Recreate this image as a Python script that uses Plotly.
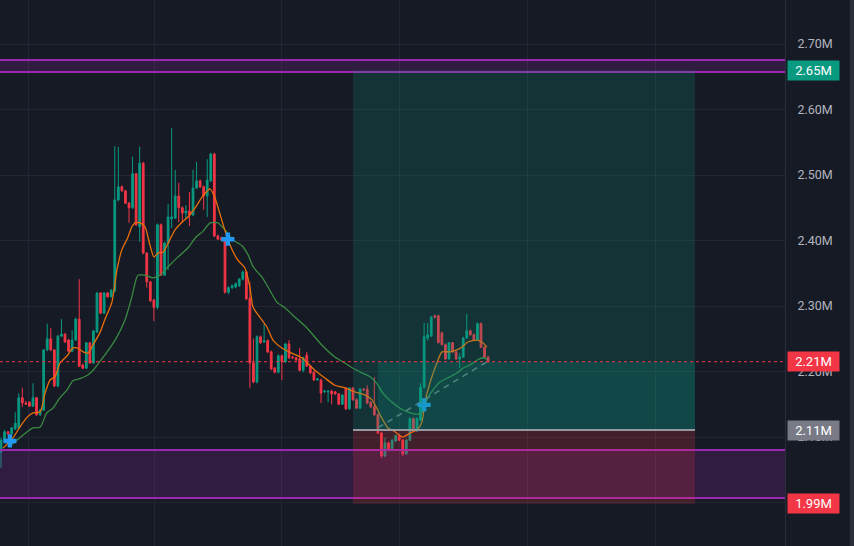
import plotly.graph_objects as go

# ---------------- data (prices in millions) ----------------
candle_idx = list(range(138))

opens = [2.077,2.095,2.108,2.105,2.112,2.114,2.160,2.152,2.153,2.147,
 2.160,2.134,2.141,2.233,2.250,2.233,2.178,2.254,2.257,2.248,
 2.231,2.248,2.280,2.210,2.205,2.244,2.213,2.260,2.320,2.289,
 2.320,2.314,2.323,2.462,2.482,2.476,2.457,2.450,2.502,2.421,
 2.518,2.381,2.337,2.309,2.298,2.424,2.347,2.396,2.433,2.434,
 2.468,2.450,2.442,2.445,2.439,2.480,2.491,2.482,2.468,2.491,
 2.532,2.407,2.404,2.402,2.321,2.328,2.329,2.331,2.341,2.352,
 2.312,2.213,2.184,2.253,2.245,2.247,2.230,2.205,2.199,2.224,
 2.215,2.242,2.222,2.221,2.219,2.202,2.225,2.208,2.199,2.187,
 2.187,2.169,2.169,2.170,2.169,2.166,2.150,2.175,2.143,2.175,
 2.157,2.144,2.173,2.173,2.153,2.146,2.134,2.106,2.071,2.091,
 2.082,2.094,2.102,2.095,2.074,2.095,2.128,2.109,2.126,2.176,
 2.251,2.254,2.285,2.285,2.259,2.241,2.219,2.244,2.230,2.219,
 2.222,2.251,2.262,2.256,2.248,2.273,2.237,2.222]

highs = [2.099,2.111,2.109,2.115,2.138,2.167,2.175,2.155,2.155,2.182,
 2.161,2.143,2.234,2.273,2.266,2.234,2.256,2.280,2.259,2.250,
 2.263,2.282,2.341,2.212,2.245,2.245,2.263,2.321,2.321,2.321,
 2.321,2.326,2.544,2.543,2.484,2.477,2.459,2.528,2.503,2.543,
 2.520,2.382,2.338,2.311,2.426,2.426,2.398,2.456,2.572,2.508,
 2.488,2.452,2.454,2.474,2.508,2.520,2.493,2.484,2.524,2.534,
 2.534,2.409,2.406,2.404,2.330,2.333,2.336,2.343,2.354,2.354,
 2.337,2.250,2.255,2.255,2.273,2.249,2.232,2.207,2.226,2.226,
 2.244,2.248,2.224,2.222,2.236,2.222,2.230,2.210,2.201,2.190,
 2.189,2.172,2.172,2.172,2.170,2.167,2.166,2.176,2.176,2.176,
 2.159,2.175,2.175,2.179,2.155,2.191,2.136,2.108,2.099,2.093,
 2.097,2.104,2.104,2.097,2.097,2.130,2.130,2.130,2.182,2.274,
 2.274,2.285,2.287,2.287,2.261,2.243,2.245,2.245,2.232,2.228,
 2.253,2.288,2.264,2.258,2.275,2.275,2.239,2.224]

lows = [2.053,2.094,2.103,2.103,2.111,2.112,2.146,2.149,2.146,2.146,
 2.132,2.132,2.140,2.231,2.231,2.176,2.176,2.253,2.244,2.230,
 2.230,2.247,2.207,2.204,2.204,2.212,2.212,2.259,2.288,2.288,
 2.313,2.313,2.321,2.460,2.474,2.456,2.427,2.448,2.422,2.398,
 2.379,2.328,2.306,2.277,2.295,2.346,2.346,2.355,2.419,2.433,
 2.428,2.427,2.434,2.422,2.437,2.479,2.480,2.447,2.436,2.489,
 2.405,2.401,2.399,2.319,2.318,2.326,2.327,2.329,2.339,2.309,
 2.175,2.182,2.182,2.242,2.244,2.228,2.202,2.197,2.197,2.187,
 2.213,2.219,2.219,2.216,2.200,2.199,2.207,2.196,2.186,2.186,
 2.152,2.167,2.153,2.150,2.164,2.149,2.149,2.141,2.141,2.155,
 2.143,2.143,2.170,2.150,2.144,2.132,2.105,2.068,2.069,2.080,
 2.080,2.092,2.094,2.071,2.073,2.094,2.108,2.108,2.124,2.174,
 2.247,2.253,2.281,2.243,2.240,2.218,2.218,2.228,2.218,2.205,
 2.221,2.250,2.255,2.247,2.247,2.236,2.221,2.213]

closes = [2.095,2.108,2.105,2.114,2.121,2.160,2.152,2.150,2.147,2.160,
 2.134,2.141,2.233,2.250,2.233,2.178,2.254,2.257,2.245,2.231,
 2.248,2.280,2.208,2.205,2.244,2.213,2.262,2.320,2.289,2.320,
 2.314,2.324,2.462,2.482,2.476,2.457,2.450,2.502,2.424,2.518,
 2.381,2.337,2.308,2.298,2.424,2.347,2.396,2.436,2.436,2.468,
 2.450,2.442,2.445,2.439,2.480,2.491,2.482,2.468,2.492,2.532,
 2.407,2.402,2.401,2.321,2.328,2.331,2.334,2.341,2.352,2.311,
 2.213,2.184,2.253,2.244,2.247,2.230,2.204,2.199,2.224,2.215,
 2.242,2.221,2.221,2.218,2.202,2.221,2.208,2.198,2.187,2.189,
 2.167,2.170,2.170,2.166,2.166,2.150,2.164,2.143,2.175,2.157,
 2.144,2.173,2.172,2.152,2.146,2.134,2.106,2.071,2.091,2.082,
 2.095,2.102,2.095,2.074,2.095,2.128,2.109,2.128,2.176,2.253,
 2.256,2.283,2.283,2.244,2.241,2.219,2.244,2.230,2.219,2.222,
 2.251,2.262,2.256,2.248,2.273,2.237,2.222,2.215]

# moving averages (candle index, price)
ma_fast_x = [0.6,3.4,5.3,7.3,9,11,12.4,13.8,15.2,16.6,18.6,20.2,21.4,23.1,24.5,25.9,27.8,29.2,31.2,32.6,
             34,35.7,36.8,37.7,39.1,40.5,41.9,43,44.2,45.6,47,48.9,50.9,52.6,54.6,56.5,58.8,60.2,62.1,63.6,
             65,66.6,68.6,70,70.9,72.8,74.8,76.5,79,81.8,84.6,88.3,91.1,93.9,96.7,99.5,102.4,104.3,105.7,107.1,
             108.8,110.8,113,115,117,118.4,119.2,120.6,122.6,124,126.3,128.2,129.6,131.3,133.9,135.5,136.7]
ma_fast_y = [2.083,2.099,2.115,2.130,2.137,2.138,2.167,2.187,2.192,2.213,2.224,2.236,2.236,2.230,2.228,2.241,2.259,2.279,2.306,2.355,
             2.386,2.405,2.421,2.427,2.427,2.421,2.393,2.375,2.381,2.382,2.396,2.416,2.428,2.436,2.450,2.466,2.479,2.465,2.431,2.405,
             2.386,2.370,2.358,2.329,2.298,2.283,2.268,2.248,2.236,2.228,2.221,2.202,2.190,2.179,2.175,2.169,2.164,2.157,2.144,2.129,
             2.114,2.108,2.100,2.106,2.111,2.123,2.152,2.182,2.213,2.230,2.230,2.233,2.237,2.245,2.248,2.244,2.237]

ma_slow_x = [3.1,6.2,9,11,12.9,14.6,16.6,18.6,20.2,22.2,24.5,25.9,27.8,32.1,34.9,36.8,38.5,40.5,42.7,44.7,
             47,49.8,52.6,54.8,56.8,58.8,61,63,65.2,67.8,69.5,70.9,73.4,75.1,77.6,79.9,82.7,85.8,90.3,93.9,
             96.7,99,101.5,103.8,105.7,107.4,110,112.2,115,117,118.4,119.8,121.5,123.5,126.3,128.5,129.9,131.9,134.1,135.5,136.7]
ma_slow_y = [2.089,2.103,2.114,2.115,2.137,2.144,2.160,2.172,2.186,2.189,2.195,2.202,2.215,2.248,2.279,2.314,2.347,2.347,2.343,2.347,
             2.360,2.375,2.389,2.405,2.414,2.427,2.427,2.416,2.401,2.392,2.378,2.360,2.344,2.329,2.306,2.297,2.283,2.268,2.240,2.222,
             2.213,2.205,2.198,2.192,2.182,2.167,2.153,2.144,2.137,2.135,2.137,2.157,2.172,2.184,2.192,2.199,2.205,2.210,2.218,2.221,2.219]

trend_x = [106, 136.7]
trend_y = [2.114, 2.215]

cross_x = [2.5, 63.8, 119]
cross_y = [2.094, 2.402, 2.149]

upper_zone = [2.6573, 2.6756]
lower_zone = [2.0069, 2.0802]
target_price = 2.6595
entry_price = 2.1107
stop_price = 1.998
last_price = 2.215
position_start = 99
position_fill_start = 106
position_end = 195.2

price_labels = ["2.65M", "2.21M", "2.11M", "1.99M"]
price_label_values = [target_price, last_price, entry_price, stop_price]
price_label_colors = ["#089981", "#f23645", "#787b86", "#f23645"]

y_ticks = [2.0, 2.1, 2.2, 2.3, 2.4, 2.5, 2.6, 2.7]
y_ticktext = ["2.00M", "2.10M", "2.20M", "2.30M", "2.40M", "2.50M", "2.60M", "2.70M"]
x_grid = [7.6, 43.3, 79, 112.2, 148.2, 184.2]

BG = "#161a25"
GRID = "#232632"
UP = "#089981"
DOWN = "#f23645"

fig = go.Figure()

fig.add_trace(go.Scatter(x=ma_slow_x, y=ma_slow_y, mode="lines",
                         line=dict(color="#3a8a42", width=1.3, shape="spline", smoothing=0.6),
                         hoverinfo="skip", showlegend=False))
fig.add_trace(go.Scatter(x=ma_fast_x, y=ma_fast_y, mode="lines",
                         line=dict(color="#e8700a", width=1.3, shape="spline", smoothing=0.6),
                         hoverinfo="skip", showlegend=False))

fig.add_trace(go.Candlestick(
    x=candle_idx, open=opens, high=highs, low=lows, close=closes,
    increasing=dict(line=dict(color=UP, width=1), fillcolor=UP),
    decreasing=dict(line=dict(color=DOWN, width=1), fillcolor=DOWN),
    whiskerwidth=0, showlegend=False, hoverinfo="skip"))

fig.add_trace(go.Scatter(x=trend_x, y=trend_y, mode="lines",
                         line=dict(color="#787b86", width=1.5, dash="6px,5px"),
                         hoverinfo="skip", showlegend=False))

fig.add_trace(go.Scatter(x=cross_x, y=cross_y, mode="markers",
                         marker=dict(symbol="cross", size=11, color="#2196f3", line=dict(width=0)),
                         hoverinfo="skip", showlegend=False))

shapes = []
# purple zones
for lo, hi in (upper_zone, lower_zone):
    shapes.append(dict(type="rect", xref="paper", x0=0, x1=1, yref="y", y0=lo, y1=hi,
                       fillcolor="rgba(156,39,176,0.2)", line=dict(width=0), layer="above"))
    for v in (lo, hi):
        shapes.append(dict(type="line", xref="paper", x0=0, x1=1, yref="y", y0=v, y1=v,
                           line=dict(color="#9c27b0", width=2), layer="above"))
# position tool
shapes.append(dict(type="rect", xref="x", x0=position_start, x1=position_end, yref="y",
                   y0=entry_price, y1=target_price, fillcolor="rgba(8,153,129,0.2)",
                   line=dict(width=0), layer="above"))
shapes.append(dict(type="rect", xref="x", x0=position_fill_start, x1=position_end, yref="y",
                   y0=entry_price, y1=last_price, fillcolor="rgba(8,153,129,0.2)",
                   line=dict(width=0), layer="above"))
shapes.append(dict(type="rect", xref="x", x0=position_start, x1=position_end, yref="y",
                   y0=stop_price, y1=entry_price, fillcolor="rgba(242,54,69,0.2)",
                   line=dict(width=0), layer="above"))
shapes.append(dict(type="line", xref="x", x0=position_start, x1=position_end, yref="y",
                   y0=entry_price, y1=entry_price, line=dict(color="#9598a1", width=2), layer="above"))
# last price dotted line
shapes.append(dict(type="line", xref="paper", x0=0, x1=1, yref="y", y0=last_price, y1=last_price,
                   line=dict(color=DOWN, width=1, dash="dot"), layer="above"))
# right edge strip
shapes.append(dict(type="rect", xref="paper", x0=1.0825, x1=1.09, yref="paper", y0=0, y1=1,
                   fillcolor="#2a2e39", line=dict(width=0), layer="above"))

annotations = []
for txt, val, col in zip(price_labels, price_label_values, price_label_colors):
    annotations.append(dict(text=txt, x=1, xref="paper", xanchor="left", xshift=2,
                            y=val, yref="y", yanchor="middle", showarrow=False,
                            bgcolor=col, width=47, height=15, borderpad=2, align="center",
                            font=dict(family="Roboto", size=13, color="#ffffff")))

fig.update_layout(
    width=854, height=546,
    margin=dict(l=0, r=69, t=0, b=0),
    paper_bgcolor=BG, plot_bgcolor=BG,
    shapes=shapes, annotations=annotations,
    showlegend=False, hovermode=False,
    xaxis=dict(range=[-0.28, 220.5], showticklabels=False, tickvals=x_grid,
               showgrid=True, gridcolor=GRID, gridwidth=1, zeroline=False,
               rangeslider=dict(visible=False), fixedrange=True),
    yaxis=dict(range=[1.9336, 2.7672], side="right", tickvals=y_ticks, ticktext=y_ticktext,
               showgrid=True, gridcolor=GRID, gridwidth=1, zeroline=False,
               showline=True, linecolor="#2a2e39", linewidth=1, mirror=False,
               ticks="", ticklabelstandoff=9,
               tickfont=dict(family="Roboto", size=12.5, color="#b2b5be"), fixedrange=True),
)

fig.write_html("out.html",
               config={"displayModeBar": False, "staticPlot": False},
               post_script="document.body.style.margin='0';document.body.style.background='#161a25';")
